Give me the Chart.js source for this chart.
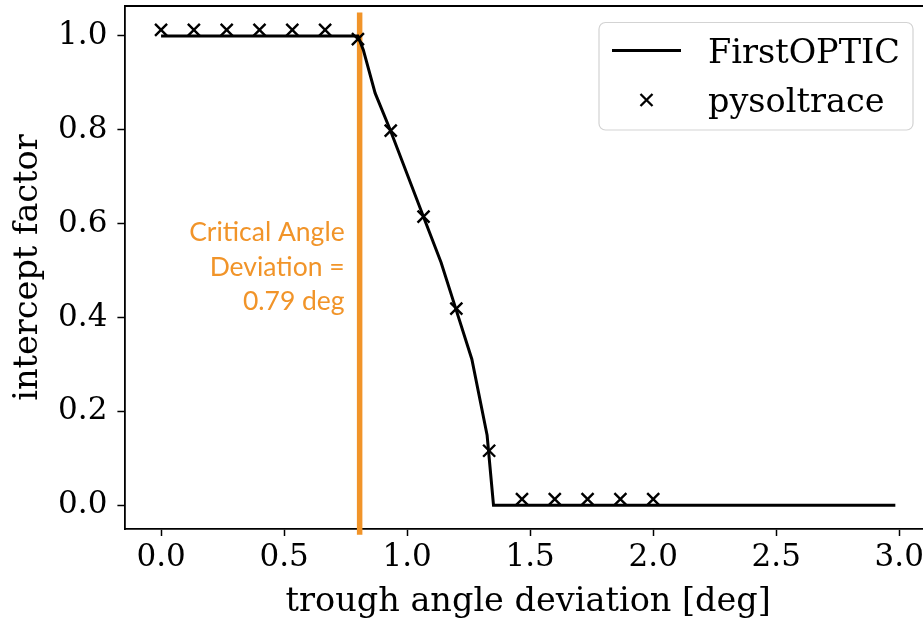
<!DOCTYPE html>
<html><head><meta charset="utf-8">
<script src="https://cdn.jsdelivr.net/npm/chart.js@4.4.0/dist/chart.umd.min.js"></script>
<style>
html,body{margin:0;padding:0;overflow:hidden;background:#fff;width:923px;height:622px}
#wrap{position:relative;width:960px;height:622px}
</style></head>
<body><div id="wrap"><canvas id="c" width="960" height="622"></canvas></div>
<script>
// ---- data ----
const firstOpticX = [0, 0.800, 0.822, 0.870, 0.931, 1.066, 1.138, 1.197, 1.263, 1.325, 1.351, 2.984];
const firstOpticY = [1.0, 1.0, 0.970, 0.878, 0.800, 0.615, 0.517, 0.420, 0.311, 0.149, 0.0, 0.0];
const pysoltraceX = [0, 0.1333, 0.2667, 0.4, 0.5333, 0.6667, 0.8, 0.9333, 1.0667, 1.2, 1.3333, 1.4667, 1.6, 1.7333, 1.8667, 2.0];
const pysoltraceY = [1.013, 1.013, 1.013, 1.013, 1.013, 1.013, 0.993, 0.798, 0.615, 0.419, 0.116, 0.013, 0.013, 0.013, 0.013, 0.013];
const xTicks = [0, 0.5, 1.0, 1.5, 2.0, 2.5, 3.0];
const yTicks = [0, 0.2, 0.4, 0.6, 0.8, 1.0];
const seriesLabels = ['FirstOPTIC', 'pysoltrace'];
const xTitle = 'trough angle deviation [deg]';
const yTitle = 'intercept factor';
const criticalAngle = 0.807;           // where the orange marker sits
const criticalSpan = [-0.063, 1.05];   // vertical extent of the orange marker
const criticalLabel = ['Critical Angle', 'Deviation =', '0.79 deg'];

const ORANGE = '#F19429';
const SERIF = "'DejaVu Serif', serif";
const tickFont = {family: SERIF, size: 31};
const titleFont = {family: SERIF, size: 33.5};
const legendFontSize = 33.5;

const toPts = (xs, ys) => xs.map((x, i) => ({x: x, y: ys[i]}));

const framePlugin = {
  id: 'frame',
  beforeDatasetsDraw(chart) {
    const {ctx, chartArea: a, scales} = chart;
    ctx.save();
    ctx.strokeStyle = '#000'; ctx.lineWidth = 1.8;
    ctx.beginPath();
    ctx.moveTo(a.left, a.top); ctx.lineTo(a.right, a.top); ctx.lineTo(a.right, a.bottom);
    ctx.stroke();
    // orange critical-angle marker
    const px = scales.x.getPixelForValue(criticalAngle);
    ctx.strokeStyle = ORANGE; ctx.lineWidth = 5.5; ctx.lineCap = 'butt';
    ctx.beginPath();
    ctx.moveTo(px, scales.y.getPixelForValue(criticalSpan[1]));
    ctx.lineTo(px, scales.y.getPixelForValue(criticalSpan[0]));
    ctx.stroke();
    ctx.restore();
  },
  afterDraw(chart) {
    const {ctx, scales} = chart;
    ctx.save();
    // annotation text
    ctx.fillStyle = ORANGE;
    ctx.font = "26.5px Lato, 'Liberation Sans', sans-serif";
    ctx.textAlign = 'right'; ctx.textBaseline = 'alphabetic';
    const tx = scales.x.getPixelForValue(criticalAngle) - 15;
    criticalLabel.forEach((t, i) => ctx.fillText(t, tx, 241 + i * 34.7));
    // legend
    const bx = 599, by = 22.5, bw = 314, bh = 107.5, r = 6.5;
    ctx.beginPath();
    ctx.moveTo(bx + r, by);
    ctx.arcTo(bx + bw, by, bx + bw, by + bh, r);
    ctx.arcTo(bx + bw, by + bh, bx, by + bh, r);
    ctx.arcTo(bx, by + bh, bx, by, r);
    ctx.arcTo(bx, by, bx + bw, by, r);
    ctx.closePath();
    ctx.fillStyle = 'rgba(255,255,255,0.8)'; ctx.fill();
    ctx.strokeStyle = '#d3d3d3'; ctx.lineWidth = 1.2; ctx.stroke();
    ctx.strokeStyle = '#000'; ctx.lineWidth = 3;
    ctx.beginPath(); ctx.moveTo(612, 50.5); ctx.lineTo(681, 50.5); ctx.stroke();
    ctx.lineWidth = 2.3;
    const cx = 646.5, cy = 100, h = 6;
    ctx.beginPath();
    ctx.moveTo(cx - h, cy - h); ctx.lineTo(cx + h, cy + h);
    ctx.moveTo(cx - h, cy + h); ctx.lineTo(cx + h, cy - h);
    ctx.stroke();
    ctx.fillStyle = '#000';
    ctx.font = legendFontSize + "px " + SERIF;
    ctx.textAlign = 'left';
    ctx.fillText(chart.data.datasets[0].label, 708, 63);
    ctx.fillText(chart.data.datasets[1].label, 708, 112);
    ctx.restore();
  }
};

new Chart(document.getElementById('c'), {
  type: 'scatter',
  data: {
    datasets: [
      {label: seriesLabels[0], data: toPts(firstOpticX, firstOpticY), showLine: true,
       borderColor: '#000', borderWidth: 3, pointRadius: 0, tension: 0, fill: false},
      {label: seriesLabels[1], data: toPts(pysoltraceX, pysoltraceY), showLine: false,
       pointStyle: 'crossRot', pointRadius: 8.5, pointBorderWidth: 2.4,
       borderColor: '#000', backgroundColor: '#000'}
    ]
  },
  options: {
    responsive: false, animation: false, devicePixelRatio: 1,
    layout: {autoPadding: false, padding: {top: 6, right: 28, left: 0, bottom: 0}},
    plugins: {legend: {display: false}, tooltip: {enabled: false}},
    scales: {
      x: {
        type: 'linear', min: -0.149, max: 3.133,
        afterBuildTicks: s => { s.ticks = xTicks.map(v => ({value: v})); },
        afterFit: s => { s.height = 93; s.paddingLeft = 0; s.paddingRight = 0; },
        ticks: {font: tickFont, color: '#000', padding: 3, maxRotation: 0, autoSkip: false,
                callback: v => Number(v).toFixed(1)},
        grid: {drawOnChartArea: false, tickLength: 7, tickColor: '#000', tickWidth: 1.5},
        border: {color: '#000', width: 1.8},
        title: {display: true, text: xTitle, font: titleFont, color: '#000', padding: {top: 0, bottom: 0}}
      },
      y: {
        type: 'linear', min: -0.0507, max: 1.0637,
        afterBuildTicks: s => { s.ticks = yTicks.map(v => ({value: v})); },
        afterFit: s => { s.width = 124.4; s.paddingTop = 0; s.paddingBottom = 0; },
        ticks: {font: tickFont, color: '#000', padding: 10, autoSkip: false,
                callback: v => Number(v).toFixed(1)},
        grid: {drawOnChartArea: false, tickLength: 7, tickColor: '#000', tickWidth: 1.5},
        border: {color: '#000', width: 1.8},
        title: {display: true, text: yTitle, font: titleFont, color: '#000', padding: {top: 8, bottom: 0}}
      }
    }
  },
  plugins: [framePlugin]
});
</script>
</body></html>
